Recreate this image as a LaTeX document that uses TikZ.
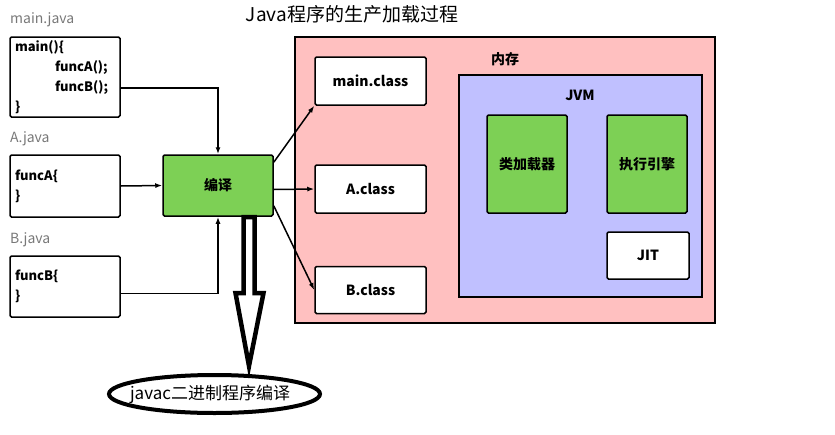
\documentclass[tikz,border=0pt]{standalone}
\usepackage{fontspec}
\setmainfont{Noto Sans CJK SC}
\usetikzlibrary{arrows.meta}

\definecolor{memred}{RGB}{255,192,192}
\definecolor{jvmblue}{RGB}{192,192,255}
\definecolor{compgreen}{RGB}{125,208,85}
\definecolor{labelgray}{RGB}{120,120,120}

\tikzset{
    box/.style={draw, line width=1.5pt, rounded corners=1.5pt, fill=white},
    file/.style={box, align=left, text width=100pt, inner xsep=5pt, font=\fontsize{13}{20}\selectfont\bfseries},
    cls/.style={box, font=\fontsize{14}{16}\selectfont\bfseries},
    gbox/.style={box, fill=compgreen, font=\fontsize{14}{16}\selectfont\bfseries},
    flabel/.style={anchor=west, inner sep=0pt, text=labelgray, font=\fontsize{14}{16}\selectfont},
    conn/.style={-{Latex[length=7pt,width=5pt]}, line width=1.5pt}
}

\begin{document}
\begin{tikzpicture}[x=1pt,y=-1pt]
    \useasboundingbox (0,0) rectangle (835,434);

    % title
    \node (title) at (352,14) [font=\fontsize{19}{22}\selectfont] {Java程序的生产加载过程};

    % memory and jvm
    \node (mem) at (505,180) [draw, line width=1.5pt, fill=memred, minimum width=420pt, minimum height=286pt] {};
    \node (memlabel) at (505,59) [font=\fontsize{14}{16}\selectfont\bfseries] {内存};
    \node (jvm) at (580.5,186) [draw, line width=1.5pt, fill=jvmblue, minimum width=243pt, minimum height=222pt] {};
    \node (jvmlabel) at (580,95) [font=\fontsize{14}{16}\selectfont\bfseries] {JVM};
    \node (loader) at (527,164) [gbox, minimum width=80pt, minimum height=98pt] {类加载器};
    \node (engine) at (647,164) [gbox, minimum width=80pt, minimum height=98pt] {执行引擎};
    \node (jit) at (648,255.5) [cls, minimum width=82pt, minimum height=47pt] {JIT};

    % class files
    \node (mainclass) at (370.5,81) [cls, minimum width=111pt, minimum height=48pt] {main.class};
    \node (Aclass) at (370.5,189) [cls, minimum width=111pt, minimum height=48pt] {A.class};
    \node (Bclass) at (370.5,290) [cls, minimum width=111pt, minimum height=47pt] {B.class};

    % source files
    \node (mainjavalabel) at (10,20) [flabel] {main.java};
    \node (mainjava) at (65,77) [file, minimum height=80pt] {main()\{\\\hspace*{40pt}funcA();\\\hspace*{40pt}funcB();\\\}};
    \node (Ajavalabel) at (10,139) [flabel] {A.java};
    \node (Ajava) at (65,186) [file, minimum height=62pt] {funcA\{\\\}};
    \node (Bjavalabel) at (10,240) [flabel] {B.java};
    \node (Bjava) at (65,286.5) [file, minimum height=61pt] {funcB\{\\\}};

    % compiler
    \node (compile) at (218,185.5) [gbox, minimum width=110pt, minimum height=61pt] {编译};

    % arrows
    \draw [conn] ([yshift=-11pt]mainjava.east) -| (compile.north);
    \draw [conn] (Ajava.east) -- (compile.west);
    \draw [conn] ([yshift=-7pt]Bjava.east) -| (compile.south);
    \draw [conn] ([yshift=-8pt]compile.north east) -- (mainclass.south west);
    \draw [conn] ([yshift=-4pt]compile.east) -- (Aclass.west);
    \draw [conn] ([yshift=11pt]compile.south east) -- (Bclass.west);

    % javac
    \draw [line width=4pt] (214.5,394) ellipse [x radius=105.5, y radius=19];
    \node (javac) at (210,394) [font=\fontsize{17}{20}\selectfont] {javac二进制程序编译};
    \draw [line width=4.5pt, fill=white, line join=miter] (243.5,217) -- (243.5,293) -- (235.5,293) -- (249,366) -- (263.5,293) -- (254.5,293) -- (254.5,217) -- cycle;

\end{tikzpicture}
\end{document}
